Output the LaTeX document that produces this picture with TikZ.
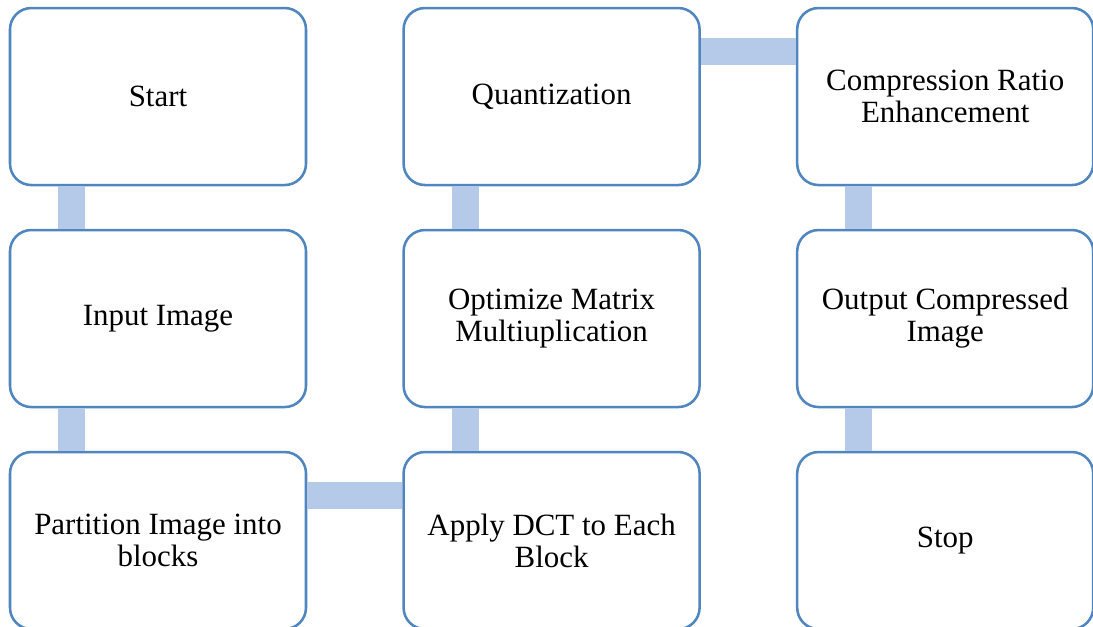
\documentclass[tikz,border=0pt]{standalone}
\usepackage{fontspec}
\setmainfont{Liberation Serif}
\usetikzlibrary{positioning}
\definecolor{boxblue}{RGB}{80,134,192}
\definecolor{barblue}{RGB}{180,202,232}

\begin{document}
\begin{tikzpicture}[line width=1.9pt, node distance=31.85pt and 71.3pt,
  stepbox/.style={draw=boxblue, rounded corners=16pt, fill=white, minimum width=222pt, minimum height=132.75pt, align=center, font=\fontsize{23.2}{24}\selectfont},
  link/.style={barblue, line width=20.25pt}]
    \path[use as bounding box] (0,0) rectangle (819.75pt,-469.5pt);
    \clip (0,0) rectangle (819.75pt,-469.5pt);
    %first column, going down
    \node[stepbox] (start) at (118.5pt,-72.4pt) {Start};
    \node[stepbox] (input) [below=of start] {Input Image};
    \node[stepbox] (partition) [below=of input] {Partition Image into\\ blocks};
    %second column, going up
    \node[stepbox] (dct) [right=of partition] {Apply DCT to Each\\ Block};
    \node[stepbox] (optimize) [above=of dct] {Optimize Matrix\\ Multiuplication};
    \node[stepbox] (quant) [above=of optimize] {Quantization};
    %third column, going down
    \node[stepbox] (ratio) [right=of quant] {Compression Ratio\\ Enhancement};
    \node[stepbox] (output) [below=of ratio] {Output Compressed\\ Image};
    \node[stepbox] (stop) [below=of output] {Stop};

    %bars between the boxes
    \draw[link] ([xshift=-64.9pt]start.south) -- ([xshift=-64.9pt]input.north);
    \draw[link] ([xshift=-64.9pt]input.south) -- ([xshift=-64.9pt]partition.north);
    \draw[link] ([yshift=34.1pt]partition.east) -- ([yshift=34.1pt]dct.west);
    \draw[link] ([xshift=-64.9pt]dct.north) -- ([xshift=-64.9pt]optimize.south);
    \draw[link] ([xshift=-64.9pt]optimize.north) -- ([xshift=-64.9pt]quant.south);
    \draw[link] ([yshift=34.1pt]quant.east) -- ([yshift=34.1pt]ratio.west);
    \draw[link] ([xshift=-64.9pt]ratio.south) -- ([xshift=-64.9pt]output.north);
    \draw[link] ([xshift=-64.9pt]output.south) -- ([xshift=-64.9pt]stop.north);
\end{tikzpicture}
\end{document}
